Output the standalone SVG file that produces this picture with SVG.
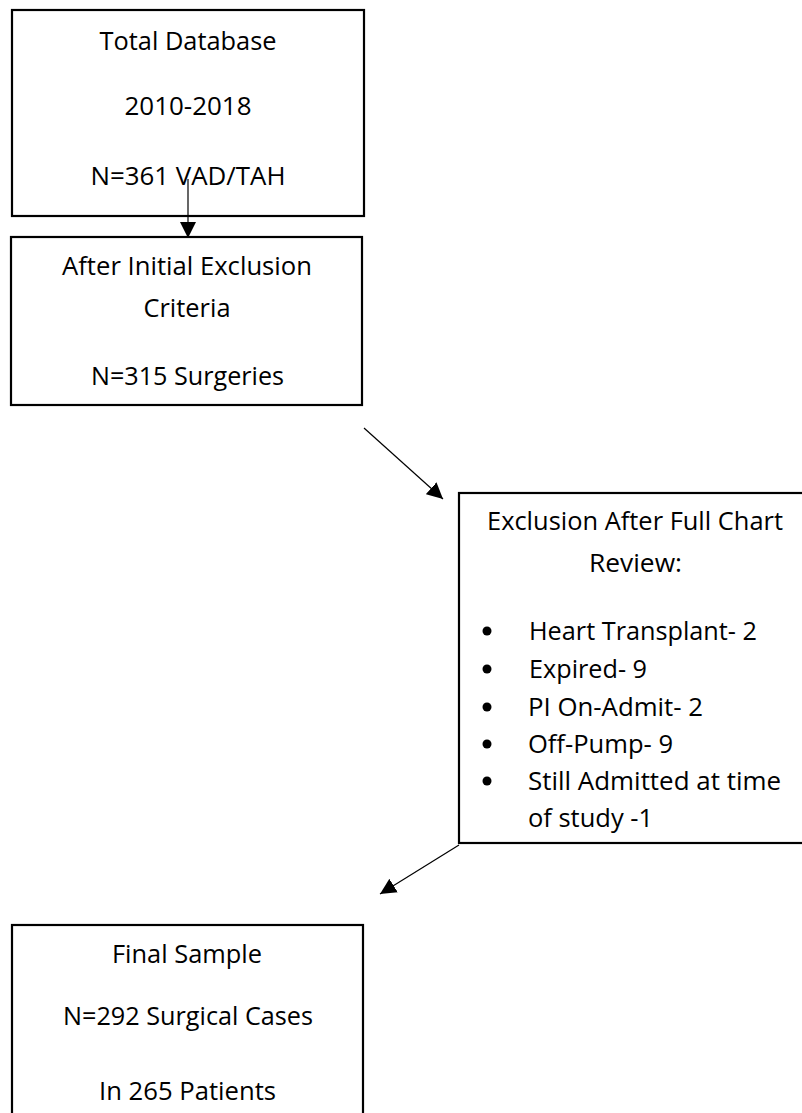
<svg xmlns="http://www.w3.org/2000/svg" width="802" height="1113" viewBox="0 0 802 1113">
<style>
.box{fill:#fff;stroke:#000;stroke-width:2.2}
text{font-family:"Open Sans","Noto Sans",sans-serif;font-size:26px;fill:#000}
.c{text-anchor:middle}
.conn{stroke:#000;stroke-width:1.2;fill:none}
</style>
<defs>
<marker id="ah" markerUnits="userSpaceOnUse" markerWidth="16" markerHeight="16" viewBox="0 0 14 14" refX="14" refY="7" orient="auto">
<path d="M0,0 L14,7 L0,14 Z" fill="#000"/>
</marker>
</defs>
<g id="n1">
<rect class="box" x="12" y="10" width="352" height="206"/>
<text class="c" x="188" y="50" textLength="177" lengthAdjust="spacingAndGlyphs">Total Database</text>
<text class="c" x="188" y="115" textLength="127" lengthAdjust="spacingAndGlyphs">2010-2018</text>
<text class="c" x="188" y="185" textLength="195" lengthAdjust="spacingAndGlyphs">N=361 VAD/TAH</text>
</g>
<g id="n2">
<rect class="box" x="11" y="237" width="351" height="168"/>
<text class="c" x="187" y="275" textLength="250" lengthAdjust="spacingAndGlyphs">After Initial Exclusion</text>
<text class="c" x="187" y="317" textLength="87" lengthAdjust="spacingAndGlyphs">Criteria</text>
<text class="c" x="187.5" y="385" textLength="193" lengthAdjust="spacingAndGlyphs">N=315 Surgeries</text>
</g>
<g id="n3">
<rect class="box" x="459" y="493" width="350" height="350"/>
<text class="c" x="635" y="530" textLength="296" lengthAdjust="spacingAndGlyphs">Exclusion After Full Chart</text>
<text class="c" x="635.5" y="572" textLength="93" lengthAdjust="spacingAndGlyphs">Review:</text>
<circle cx="487" cy="631" r="4.5"/>
<text x="529" y="640" textLength="228" lengthAdjust="spacingAndGlyphs">Heart Transplant- 2</text>
<circle cx="487" cy="669" r="4.5"/>
<text x="529" y="678" textLength="118" lengthAdjust="spacingAndGlyphs">Expired- 9</text>
<circle cx="487" cy="707" r="4.5"/>
<text x="528" y="716" textLength="175" lengthAdjust="spacingAndGlyphs">PI On-Admit- 2</text>
<circle cx="487" cy="744" r="4.5"/>
<text x="528" y="753" textLength="145" lengthAdjust="spacingAndGlyphs">Off-Pump- 9</text>
<circle cx="487" cy="781" r="4.5"/>
<text x="528" y="790" textLength="253" lengthAdjust="spacingAndGlyphs">Still Admitted at time</text>
<text x="528" y="827" textLength="125" lengthAdjust="spacingAndGlyphs">of study -1</text>
</g>
<g id="n4">
<rect class="box" x="12" y="925" width="351" height="200"/>
<text class="c" x="187" y="963" textLength="150" lengthAdjust="spacingAndGlyphs">Final Sample</text>
<text class="c" x="188" y="1025" textLength="250" lengthAdjust="spacingAndGlyphs">N=292 Surgical Cases</text>
<text class="c" x="187.5" y="1100" textLength="177" lengthAdjust="spacingAndGlyphs">In 265 Patients</text>
</g>
<g id="connectors">
<line class="conn" x1="188" y1="179" x2="188" y2="238" marker-end="url(#ah)"/>
<line class="conn" x1="364" y1="428" x2="443" y2="499" marker-end="url(#ah)"/>
<line class="conn" x1="459" y1="845" x2="380" y2="894" marker-end="url(#ah)"/>
</g>
</svg>
